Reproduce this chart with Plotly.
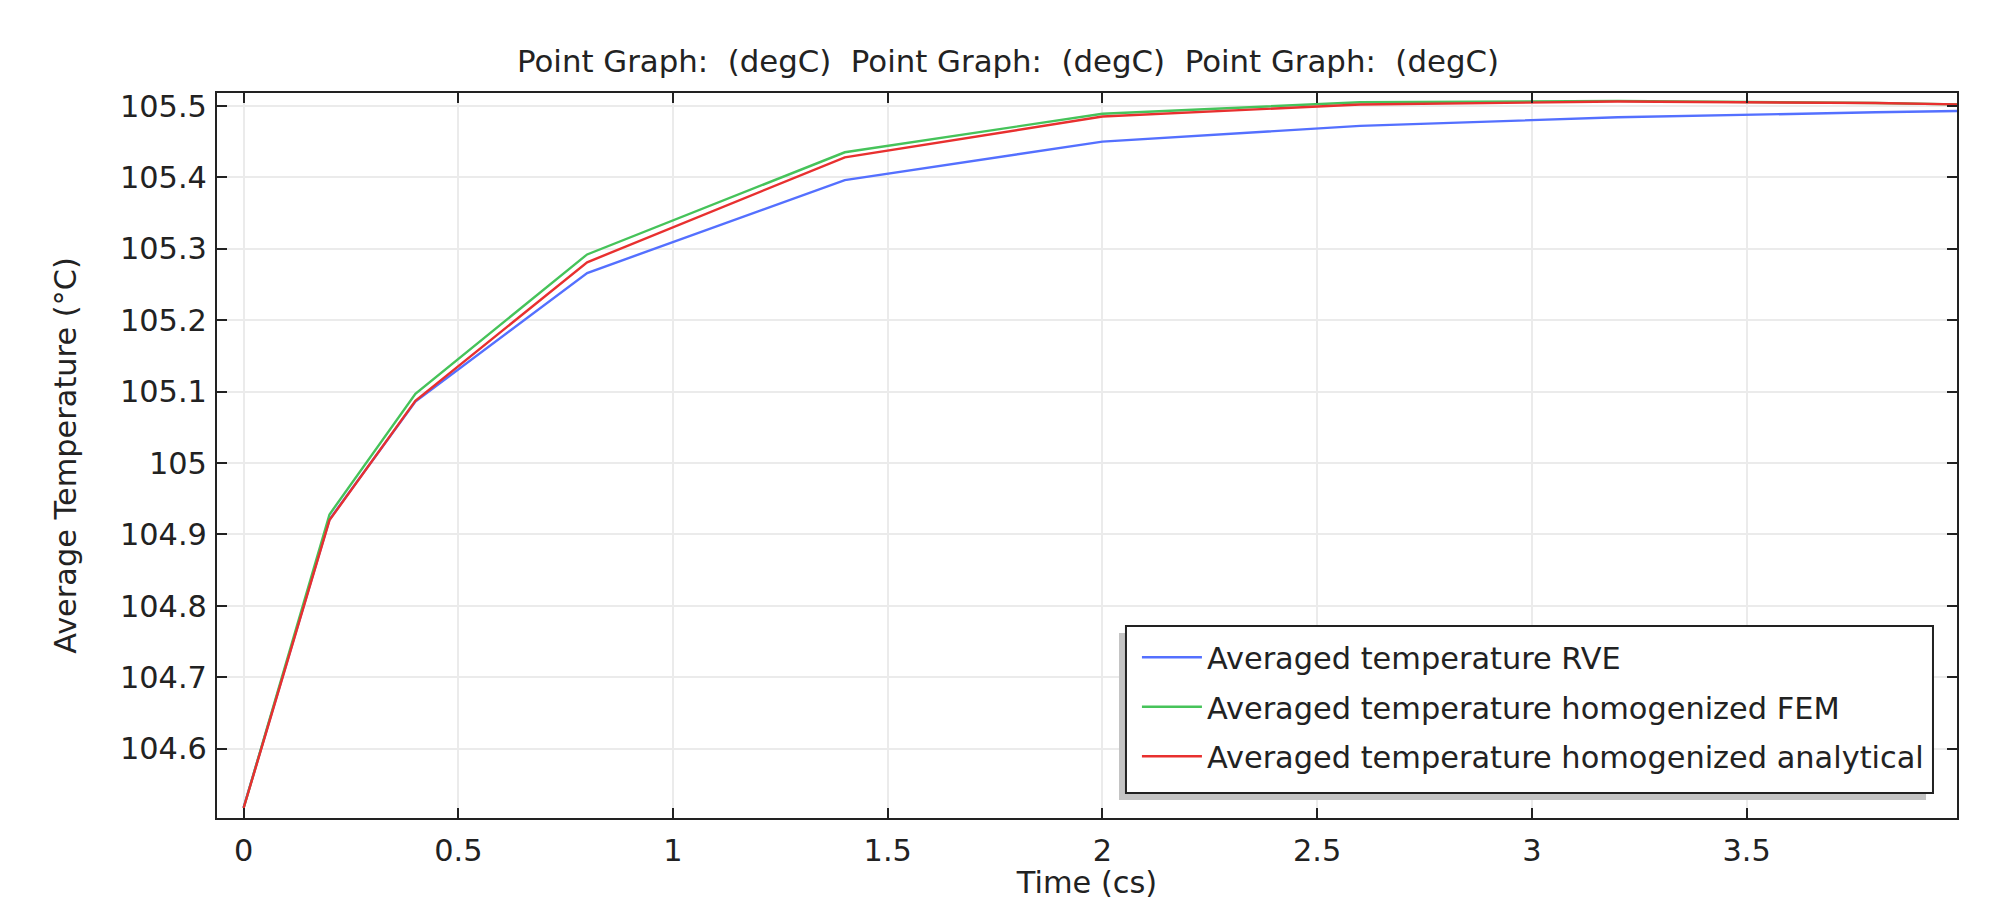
import plotly.graph_objects as go

# ---- data ----
time_cs = [0, 0.2, 0.4, 0.8, 1.4, 2.0, 2.6, 3.2, 3.8, 4.0]
temp_rve = [104.518, 104.921, 105.086, 105.266, 105.396, 105.450, 105.472, 105.484, 105.491, 105.493]
temp_fem = [104.517, 104.928, 105.097, 105.292, 105.435, 105.489, 105.505, 105.507, 105.504, 105.502]
temp_analytical = [104.517, 104.920, 105.087, 105.281, 105.428, 105.485, 105.502, 105.506, 105.504, 105.502]

series_names = [
    "Averaged temperature RVE",
    "Averaged temperature homogenized FEM",
    "Averaged temperature homogenized analytical",
]
series_colors = ["#5470ff", "#46c35a", "#e8302f"]

x_ticks = [0, 0.5, 1, 1.5, 2, 2.5, 3, 3.5]
x_ticktext = ["0", "0.5", "1", "1.5", "2", "2.5", "3", "3.5"]
y_ticks = [104.6, 104.7, 104.8, 104.9, 105.0, 105.1, 105.2, 105.3, 105.4, 105.5]
y_ticktext = ["104.6", "104.7", "104.8", "104.9", "105", "105.1", "105.2", "105.3", "105.4", "105.5"]

title_text = "\u00a0\u00a0".join(["Point Graph:\u00a0\u00a0(degC)"] * 3)

FONT = "DejaVu Sans"
TXT = "#222222"
FS = 30.4

fig = go.Figure()
for i, (name, ys, col) in enumerate(zip(series_names, [temp_rve, temp_fem, temp_analytical], series_colors)):
    fig.add_trace(go.Scatter(
        x=time_cs, y=ys, mode="lines", name=name,
        line=dict(color=col, width=2.4),
        legendgroup=f"g{i}",
    ))

axis_common = dict(
    ticks="inside", ticklen=10, tickwidth=2, tickcolor="#222222",
    showline=True, linecolor="#222222", linewidth=2, mirror="ticks",
    showgrid=True, gridcolor="#ebebeb", gridwidth=2, zeroline=False,
    tickfont=dict(family=FONT, size=FS, color=TXT),
    tickmode="array", automargin=False,
)

fig.update_layout(
    width=2002, height=900,
    margin=dict(l=217, r=45, t=93, b=82, pad=0, autoexpand=False),
    paper_bgcolor="white", plot_bgcolor="white",
    font=dict(family=FONT, size=FS, color=TXT),
    title=dict(text=title_text, x=0.5035, xanchor="center", y=1 - 61 / 900, yanchor="middle",
               font=dict(family=FONT, size=30.8, color=TXT)),
    xaxis=dict(range=[-0.062, 3.99], tickvals=x_ticks, ticktext=x_ticktext,
               title=dict(text="Time (cs)", standoff=9, font=dict(family=FONT, size=FS, color=TXT)),
               ticklabelstandoff=5, **axis_common),
    yaxis=dict(range=[104.503, 105.518], tickvals=y_ticks, ticktext=y_ticktext,
               title=dict(text="Average Temperature (°C)", standoff=34, font=dict(family=FONT, size=FS, color=TXT)),
               ticklabelstandoff=2, **axis_common),
    showlegend=True,
    legend=dict(
        x=0.5287, xanchor="left", y=0.258, yanchor="top",
        bgcolor="rgba(0,0,0,0)", borderwidth=0,
        font=dict(family=FONT, size=FS, color=TXT),
        traceorder="grouped", tracegroupgap=7, itemwidth=60,
    ),
    shapes=[
        # legend drop shadow
        dict(type="rect", xref="paper", yref="paper",
             x0=0.5184, x1=0.9822, y0=0.0248, y1=0.2552,
             fillcolor="#c4c4c4", line=dict(width=0), layer="above"),
        # legend frame
        dict(type="rect", xref="paper", yref="paper",
             x0=0.5224, x1=0.9862, y0=0.0345, y1=0.2648,
             fillcolor="white", line=dict(color="#222222", width=2), layer="above"),
    ],
)

fig.write_html("out.html", config={"displayModeBar": False},
               post_script="document.body.style.margin='0';")
